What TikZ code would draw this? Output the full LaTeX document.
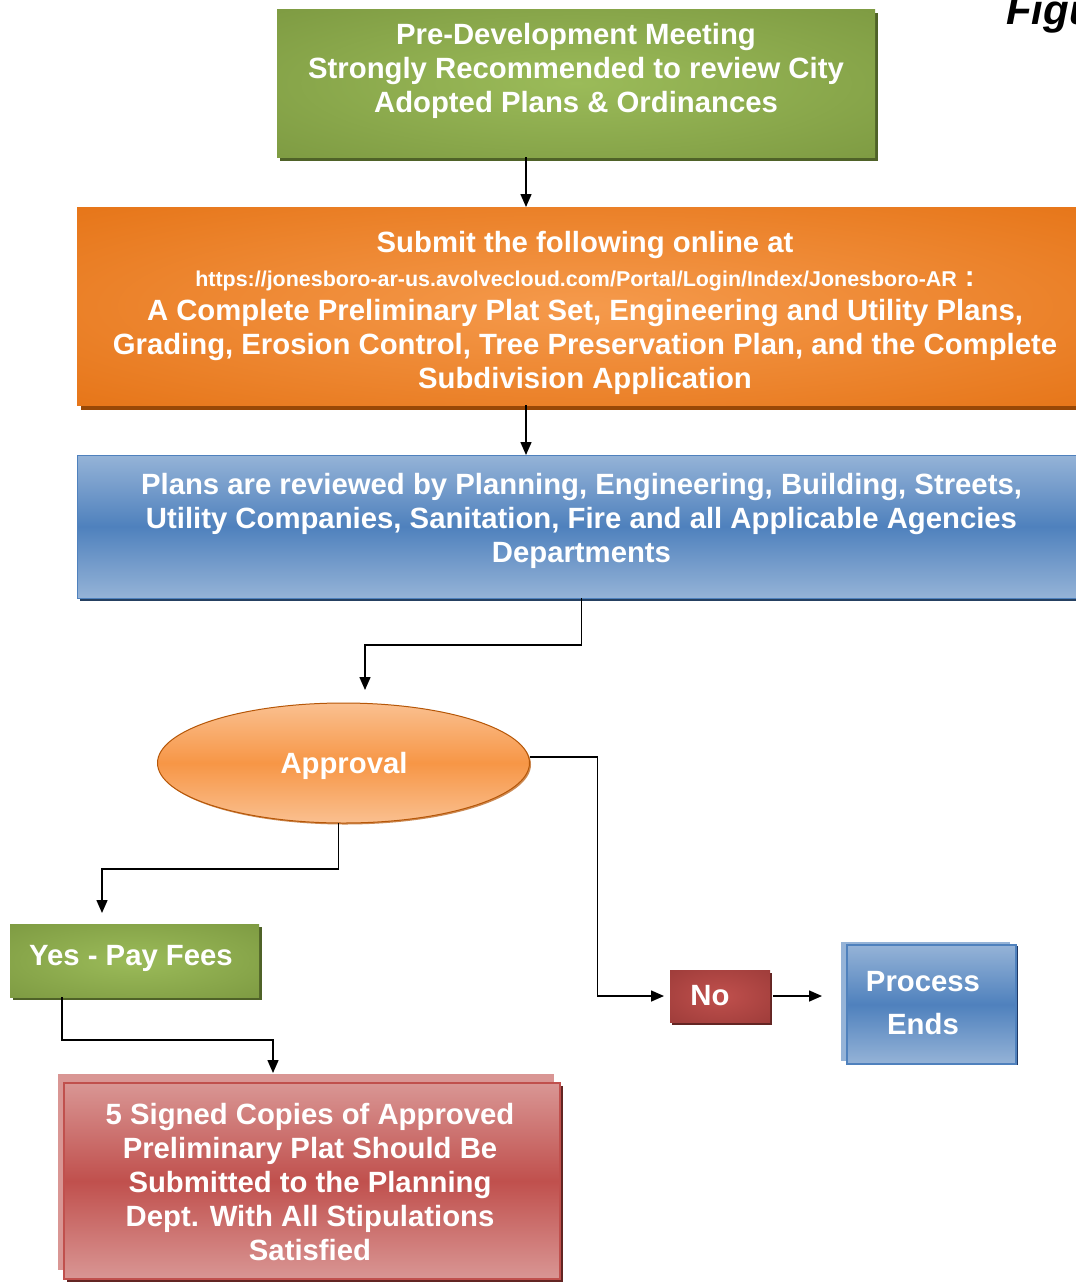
\documentclass[tikz,border=0pt]{standalone}
\usepackage{fontspec}
\setmainfont{Liberation Sans}
\usetikzlibrary{shapes.geometric,arrows.meta,shadows}

\definecolor{grnE}{HTML}{76923C}
\definecolor{grnC}{HTML}{9BBB59}
\definecolor{grnS}{HTML}{4F6228}
\definecolor{orgE}{HTML}{E26B0A}
\definecolor{orgC}{HTML}{F59A4C}
\definecolor{orgS}{HTML}{984807}
\definecolor{bluL}{HTML}{95B3D7}
\definecolor{bluM}{HTML}{4F81BD}
\definecolor{bluS}{HTML}{254061}
\definecolor{bluD}{HTML}{1F3864}
\definecolor{ellL}{HTML}{FAC090}
\definecolor{ellM}{HTML}{F79646}
\definecolor{ellB}{HTML}{B65708}
\definecolor{redC}{HTML}{C0504D}
\definecolor{redE}{HTML}{953735}
\definecolor{redS}{HTML}{632523}
\definecolor{redL}{HTML}{D99694}

% soft central glow for the flat boxes
\pgfdeclareradialshading{glowgrn}{\pgfpoint{0bp}{0bp}}{color(0bp)=(grnC); color(46bp)=(grnE); color(50bp)=(grnE)}
\pgfdeclareradialshading{gloworg}{\pgfpoint{0bp}{0bp}}{color(0bp)=(orgC); color(46bp)=(orgE); color(50bp)=(orgE)}
\pgfdeclareradialshading{glowred}{\pgfpoint{0bp}{0bp}}{color(0bp)=(redC); color(46bp)=(redE); color(50bp)=(redE)}

\tikzset{
  box/.style={rectangle, inner sep=0pt, outer sep=0pt},
  txt/.style={text=white, font=\fontsize{29.3}{34}\selectfont\bfseries, align=center, inner sep=0pt},
  arr/.style={draw=black, line width=1.5pt, -{Triangle[length=13pt,width=11pt]}},
}

\begin{document}
\begin{tikzpicture}[x=1pt,y=-1pt]
\useasboundingbox (0,0) rectangle (1076,1283);
\fill[white] (0,0) rectangle (1076,1283);
\clip (0,0) rectangle (1076,1283);

% heading at the top right corner
\node[font=\fontsize{42}{46}\selectfont\bfseries\itshape, anchor=base west, inner sep=0pt] (fig) at (1006,24) {Figure};

% process boxes
\node[box, shading=glowgrn, general shadow={fill=grnS, shadow xshift=3pt, shadow yshift=-4pt},
      minimum width=598pt, minimum height=148pt] (top) at (576,83) {};
\node[box, shading=gloworg, general shadow={fill=orgS, shadow xshift=4pt, shadow yshift=-5pt},
      minimum width=1016pt, minimum height=198pt] (org) at (585,306) {};
\node[box, top color=bluL, bottom color=bluL, middle color=bluM, draw=bluM, line width=1pt,
      general shadow={fill=bluS, shadow xshift=3pt, shadow yshift=-3pt},
      minimum width=1009pt, minimum height=143pt] (blue) at (581.5,526.5) {};
\node[ellipse, inner sep=0pt, outer sep=0pt, top color=ellL, bottom color=ellL, middle color=ellM,
      draw=ellB, line width=1pt, general shadow={fill=ellB!70, shadow xshift=1.5pt, shadow yshift=-1.5pt},
      minimum width=372pt, minimum height=120pt] (appr) at (343.5,763) {};
\node[box, shading=glowgrn, general shadow={fill=grnS, shadow xshift=3pt, shadow yshift=-3pt},
      minimum width=249pt, minimum height=73pt] (yes) at (134.5,960.5) {};
\node[box, shading=glowred, general shadow={fill=redS, shadow xshift=2pt, shadow yshift=-3pt},
      minimum width=100pt, minimum height=52pt] (no) at (720,996) {};
\node[box, top color=bluL, bottom color=bluL, middle color=bluM, draw=bluM, line width=2pt,
      general shadow={fill=bluL, shadow xshift=-6pt, shadow yshift=3pt},
      general shadow={fill=bluD, shadow xshift=2pt, shadow yshift=-1pt},
      minimum width=169pt, minimum height=119pt] (proc) at (931.5,1004.5) {};
\node[box, top color=redL, bottom color=redL, middle color=redC, draw=redC, line width=1.5pt,
      general shadow={fill=redL, shadow xshift=-6pt, shadow yshift=9pt},
      general shadow={fill=redS, shadow xshift=3pt, shadow yshift=-3pt},
      minimum width=496pt, minimum height=196pt] (sub) at (312,1181) {};

% box texts
\node[txt] (topT) at (576,71) {Pre-Development Meeting\\Strongly Recommended to review City\\Adopted Plans \& Ordinances};
\node[txt] (orgT) at (585,312.5) {Submit the following online at\\{\fontsize{21.45}{34}\selectfont https://jonesboro-ar-us.avolvecloud.com/Portal/Login/Index/Jonesboro-AR} :\\A Complete Preliminary Plat Set, Engineering and Utility Plans,\\Grading, Erosion Control, Tree Preservation Plan, and the Complete\\Subdivision Application};
\node[txt] (blueT) at (581.5,520.5) {Plans are reviewed by Planning, Engineering, Building, Streets,\\Utility Companies, Sanitation, Fire and all Applicable Agencies\\Departments};
\node[txt] (apprT) at (344,766) {Approval};
\node[txt] (yesT) at (131,958) {Yes - Pay Fees};
\node[txt] (noT) at (710,996) {No};
\node[txt] (procT) at (923,1003) {Process\\[9pt]Ends};
\node[txt] (subT) at (310,1182.5) {5 Signed Copies of Approved\\Preliminary Plat Should Be\\Submitted to the Planning\\Dept. With All Stipulations\\Satisfied};

% connector guide columns
\coordinate (spine) at (526,0);
\coordinate (dropA) at (365,0);
\coordinate (dropB) at (102,0);
\coordinate (dropC) at (62,0);
\coordinate (dropD) at (273,0);

% connectors
\draw[arr] (top.south -| spine) -- (org.north -| spine);
\draw[arr] (org.south -| spine) -- (blue.north -| spine);
\draw[arr, shorten >=13pt] (blue.south) -- ++(0,47) -| (appr.north -| dropA);
\draw[arr, shorten >=11pt] ([xshift=-5pt]appr.south) -- ++(0,46) -| (yes.north -| dropB);
\draw[arr, shorten >=6pt] ([yshift=6pt]appr.east) -- ++(68,0) |- (no.west);
\draw[arr, shorten >=25pt, shorten <=3pt] (no.east) -- (no.east -| proc.west);
\draw[arr, shorten >=10pt] (yes.south -| dropC) -- ++(0,43) -| (sub.north -| dropD);
\end{tikzpicture}
\end{document}
